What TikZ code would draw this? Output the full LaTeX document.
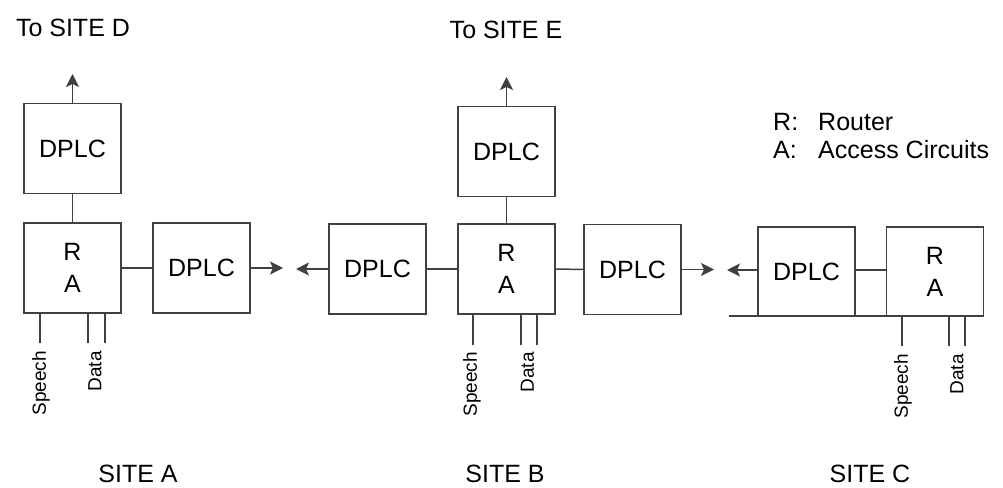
\documentclass[tikz,border=0pt]{standalone}
\usepackage{fontspec}
\setmainfont{Liberation Sans}
\usetikzlibrary{arrows.meta}
\begin{document}
\begin{tikzpicture}[x=1pt,y=-1pt,
  box/.style={draw=black!75,line width=1.5pt,minimum width=97pt,minimum height=90pt,inner sep=0pt,font=\fontsize{25}{30}\selectfont},
  wire/.style={draw=black!75,line width=1.5pt},
  arr/.style={wire,-{Stealth[length=13pt,width=13pt,inset=3pt]}},
  lbl/.style={font=\fontsize{25}{30}\selectfont,inner sep=0pt},
  small/.style={font=\fontsize{19}{22}\selectfont,inner sep=0pt,rotate=90,anchor=east}]
\useasboundingbox (0,0) rectangle (1003,487);
% Site A
\node[box] (dA) at (72.5,148.5) {DPLC};
\node[box,align=center] (rA) at (72.5,268) {R\\[2pt]A};
\node[box] (pA) at (201.5,268) {DPLC};
\coordinate (tA) at (72.5,74);
\coordinate (eA) at (283,268);
\draw[arr] (dA.north) -- (tA);
\draw[wire] (dA.south) -- (rA.north);
\draw[wire] (rA.east) -- (pA.west);
\draw[arr] (pA.east) -- (eA);
\coordinate (sA) at (40,343);
\coordinate (d1A) at (88,343);
\coordinate (d2A) at (105,343);
\draw[wire] (rA.south -| sA) -- (sA);
\draw[wire] (rA.south -| d1A) -- (d1A);
\draw[wire] (rA.south -| d2A) -- (d2A);
\node[small] (spA) at (41,351) {Speech};
\node[small] (daA) at (95,351) {Data};
\node[lbl] (toD) at (73,28) {To SITE D};
\node[lbl] (siteA) at (138,474) {SITE A};
% Site B
\node[box] (pBL) at (377.5,269) {DPLC};
\node[box,align=center] (rB) at (506.5,269) {R\\[2pt]A};
\node[box] (dB) at (506.5,151.5) {DPLC};
\node[box] (pBR) at (632.5,269.5) {DPLC};
\coordinate (wB) at (296,269);
\coordinate (tB) at (506.5,77);
\coordinate (eB) at (714,269.5);
\draw[arr] (pBL.west) -- (wB);
\draw[wire] (pBL.east) -- (rB.west);
\draw[wire] (rB.east) -- (pBR.west);
\draw[arr] (pBR.east) -- (eB);
\draw[arr] (dB.north) -- (tB);
\draw[wire] (dB.south) -- (rB.north);
\coordinate (sB) at (473,345);
\coordinate (d1B) at (521,345);
\coordinate (d2B) at (537,345);
\draw[wire] (rB.south -| sB) -- (sB);
\draw[wire] (rB.south -| d1B) -- (d1B);
\draw[wire] (rB.south -| d2B) -- (d2B);
\node[small] (spB) at (472,352) {Speech};
\node[small] (daB) at (527.5,352) {Data};
\node[lbl] (toE) at (506,30) {To SITE E};
\node[lbl] (siteB) at (505,474) {SITE B};
% Site C
\node[box,minimum height=89pt] (pC) at (806.5,271.5) {DPLC};
\node[box,minimum height=89pt,align=center] (rC) at (935,271.5) {R\\[2pt]A};
\coordinate (wC) at (727,270);
\draw[arr] (pC.west |- wC) -- (wC);
\draw[wire] (pC.east |- wC) -- (rC.west |- wC);
\coordinate (bl) at (729,316);
\coordinate (br) at (984,316);
\draw[wire] (bl) -- (br);
\coordinate (sC) at (902,346);
\coordinate (d1C) at (949,346);
\coordinate (d2C) at (965,346);
\draw[wire] (bl -| sC) -- (sC);
\draw[wire] (bl -| d1C) -- (d1C);
\draw[wire] (bl -| d2C) -- (d2C);
\node[small] (spC) at (903,354) {Speech};
\node[small] (daC) at (957,354) {Data};
\node[lbl] (siteC) at (870,474) {SITE C};
% Legend
\node[lbl,anchor=west] (lR) at (773,122) {R:};
\node[lbl,anchor=west] (lRt) at (818,122) {Router};
\node[lbl,anchor=west] (lA) at (773,150) {A:};
\node[lbl,anchor=west] (lAt) at (818,150) {Access Circuits};
\end{tikzpicture}
\end{document}
